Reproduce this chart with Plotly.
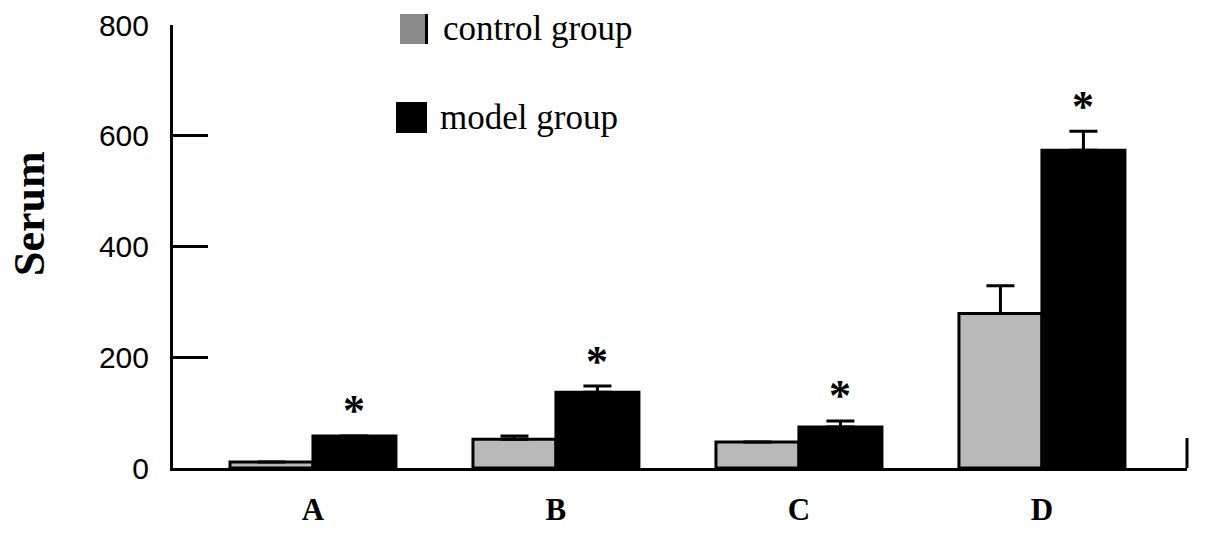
import plotly.graph_objects as go

categories = ["A", "B", "C", "D"]
control_values = [11, 52, 47, 279]
control_err = [0, 6, 0, 50]
model_values = [58, 137, 74, 574]
model_err = [0, 11, 11, 34]
y_ticks = [0, 200, 400, 600, 800]

W, H = 1205, 535
L, R, T, B = 173, 18, 25, 67
pw, ph = W - L - R, H - T - B

def px(x):
    return (x - L) / pw

def py(y):
    return (H - B - y) / ph

fig = go.Figure()
fig.add_trace(go.Bar(
    x=categories, y=control_values, name="control group",
    marker=dict(color="#b9b9b9", line=dict(color="black", width=3)),
    error_y=dict(type="data", array=control_err, arrayminus=[0] * 4, symmetric=False,
                 color="black", thickness=3, width=14),
    showlegend=False,
))
fig.add_trace(go.Bar(
    x=categories, y=model_values, name="model group",
    marker=dict(color="black", line=dict(color="black", width=3)),
    error_y=dict(type="data", array=model_err, arrayminus=[0] * 4, symmetric=False,
                 color="black", thickness=3, width=14),
    showlegend=False,
))

annotations = []
for c, v, e in zip(categories, model_values, model_err):
    annotations.append(dict(x=c, y=v + e, xref="x", yref="y", text="<b>*</b>", showarrow=False,
                            xshift=41, yshift=25, yanchor="middle",
                            font=dict(family="Liberation Serif", size=44, color="black")))

annotations.append(dict(x=px(29), y=py(214), xref="paper", yref="paper", text="<b>Serum</b>",
                        textangle=-90, showarrow=False, xanchor="center", yanchor="middle",
                        font=dict(family="Liberation Serif", size=44, color="black")))
annotations.append(dict(x=px(441), y=py(29), xref="paper", yref="paper", text="control group",
                        showarrow=False, xanchor="left", yanchor="middle",
                        font=dict(family="Liberation Serif", size=35, color="black")))
annotations.append(dict(x=px(438), y=py(117), xref="paper", yref="paper", text="model group",
                        showarrow=False, xanchor="left", yanchor="middle",
                        font=dict(family="Liberation Serif", size=35, color="black")))

shapes = [
    dict(type="rect", xref="paper", yref="paper", x0=px(400), x1=px(426), y0=py(44), y1=py(14),
         fillcolor="#8a8a8a", line=dict(width=0)),
    dict(type="rect", xref="paper", yref="paper", x0=px(425), x1=px(428), y0=py(44), y1=py(14),
         fillcolor="black", line=dict(width=0)),
    dict(type="rect", xref="paper", yref="paper", x0=px(396), x1=px(427), y0=py(133), y1=py(102),
         fillcolor="black", line=dict(width=0)),
    dict(type="line", xref="paper", yref="paper", x0=1, x1=1, y0=0, y1=py(438),
         line=dict(color="black", width=3)),
]

fig.update_layout(
    width=W, height=H,
    margin=dict(l=L, r=R, t=T, b=B, pad=0, autoexpand=False),
    paper_bgcolor="white", plot_bgcolor="white",
    barmode="group", bargap=0.317, bargroupgap=0,
    annotations=annotations, shapes=shapes,
    xaxis=dict(type="category", range=[-0.576, 3.597], showline=True, linecolor="black",
               linewidth=3, ticks="", showgrid=False, zeroline=False, automargin=False,
               tickfont=dict(family="Liberation Serif", size=31, color="black"),
               ticklabelstandoff=12, tickprefix="<b>", ticksuffix="</b>"),
    yaxis=dict(range=[0, 800], tickvals=y_ticks, showline=True, linecolor="black", linewidth=3,
               ticks="inside", ticklen=35, tickwidth=3, tickcolor="black",
               showgrid=False, zeroline=False, automargin=False,
               tickfont=dict(family="Liberation Sans", size=30, color="black"),
               ticklabelstandoff=15),
)

fig.write_html("out.html", config={"displayModeBar": False},
               post_script="document.body.style.margin='0';")
